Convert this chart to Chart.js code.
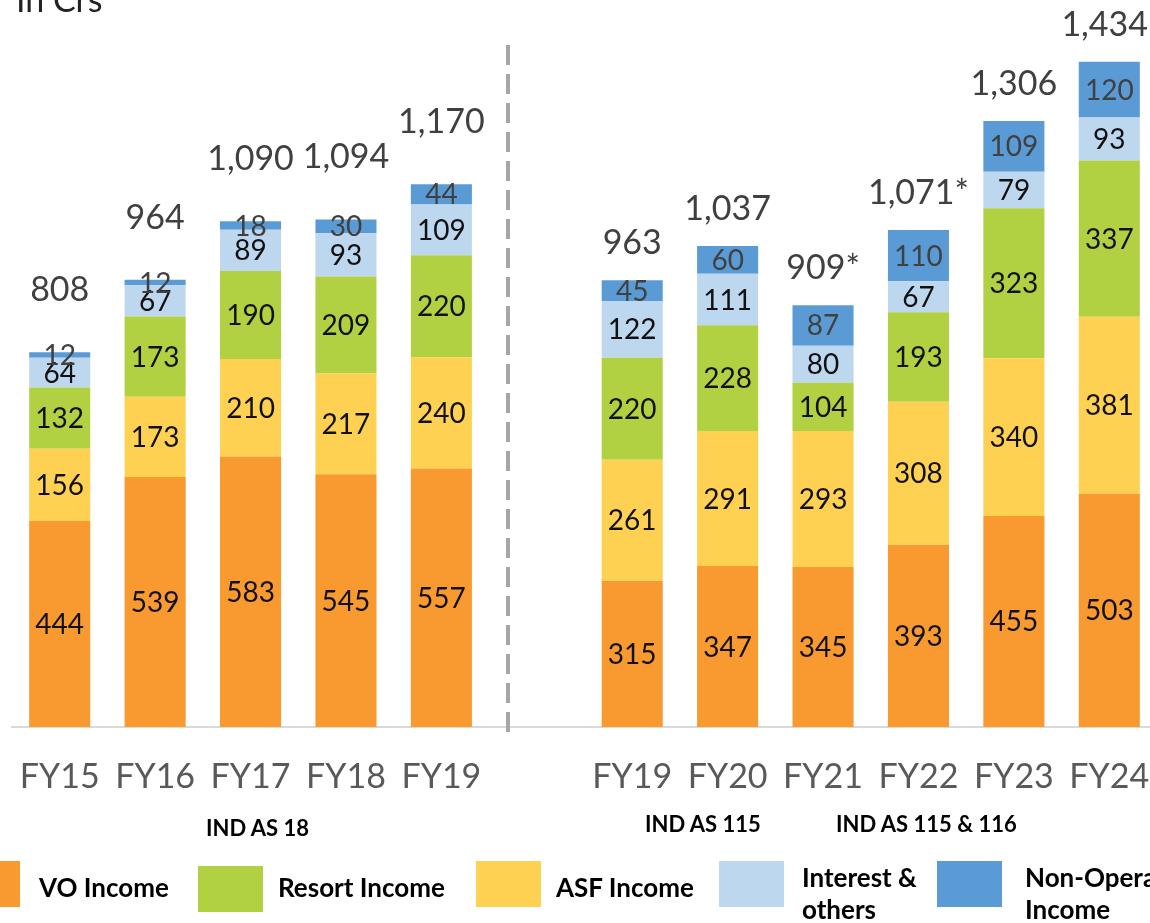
<!DOCTYPE html>
<html>
<head>
<meta charset="utf-8">
<script src="https://cdn.jsdelivr.net/npm/chart.js@4.4.1/dist/chart.umd.min.js"></script>
<style>
  html, body { margin: 0; padding: 0; background: #fff; width: 1150px; height: 923px; overflow: hidden; position: relative; font-family: Lato, "Open Sans", sans-serif; }
  #wrap { position: absolute; left: 0; top: 0; width: 1160px; height: 923px; }
  .txt { position: absolute; white-space: nowrap; }
  .unit { left: 16px; top: -22px; font-size: 34px; color: #222; }
  .std { font-weight: 700; font-size: 22px; color: #000; top: 814px; }
  .lbox { position: absolute; height: 46px; width: 65px; }
  .ltxt { position: absolute; font-weight: 700; font-size: 26px; color: #000; line-height: 32px; white-space: nowrap; }
</style>
</head>
<body>
<div id="wrap"><canvas id="c"></canvas></div>
<div class="txt unit">In Crs</div>
<div class="txt std" style="left:206px;">IND AS 18</div>
<div class="txt std" style="left:645px;top:810px;">IND AS 115</div>
<div class="txt std" style="left:836px;top:810px;">IND AS 115 &amp; 116</div>

<div class="lbox" style="left:-45px;top:861px;background:#F89A30;"></div>
<div class="ltxt" style="left:39px;top:871px;">VO Income</div>
<div class="lbox" style="left:198px;top:866px;background:#B1D142;"></div>
<div class="ltxt" style="left:278px;top:871px;">Resort Income</div>
<div class="lbox" style="left:476px;top:861px;background:#FFD152;"></div>
<div class="ltxt" style="left:556px;top:871px;">ASF Income</div>
<div class="lbox" style="left:719px;top:861px;background:#BDD7EE;"></div>
<div class="ltxt" style="left:802px;top:861px;">Interest &amp;<br>others</div>
<div class="lbox" style="left:937px;top:861px;background:#5B9BD5;"></div>
<div class="ltxt" style="left:1025px;top:861px;">Non-Operating<br>Income</div>

<script>
const categories = ['FY15','FY16','FY17','FY18','FY19','','FY19','FY20','FY21','FY22','FY23','FY24'];
const voIncome       = [444, 539, 583, 545, 557, null, 315, 347, 345, 393, 455, 503];
const asfIncome      = [156, 173, 210, 217, 240, null, 261, 291, 293, 308, 340, 381];
const resortIncome   = [132, 173, 190, 209, 220, null, 220, 228, 104, 193, 323, 337];
const interestOthers = [64, 67, 89, 93, 109, null, 122, 111, 80, 67, 79, 93];
const nonOperating   = [12, 12, 18, 30, 44, null, 45, 60, 87, 110, 109, 120];
const totalLabels    = ['808','964','1,090','1,094','1,170','','963','1,037','909*','1,071*','1,306','1,434'];

const labelPlugin = {
  id: 'labels',
  afterDatasetsDraw(chart) {
    const ctx = chart.ctx;
    ctx.save();
    ctx.textAlign = 'center';
    ctx.textBaseline = 'middle';
    chart.data.datasets.forEach((ds, di) => {
      const meta = chart.getDatasetMeta(di);
      meta.data.forEach((bar, i) => {
        const v = ds.data[i];
        if (v == null) return;
        const y = (bar.y + bar.base) / 2;
        ctx.font = '28px Lato';
        ctx.fillStyle = di === 4 ? '#404040' : '#111111';
        ctx.fillText(String(v), bar.x, y + 1);
      });
    });
    const top = chart.getDatasetMeta(chart.data.datasets.length - 1);
    top.data.forEach((bar, i) => {
      const t = totalLabels[i];
      if (!t) return;
      const off = i < 5 ? 62 : 37;
      ctx.font = '34px Lato';
      ctx.fillStyle = '#404040';
      const w = ctx.measureText(t).width;
      const x = Math.min(bar.x, 1148 - w / 2);
      ctx.fillText(t, x, bar.y - off);
    });
    // dashed separator
    const xs = chart.scales.x;
    const step = xs.getPixelForValue(5) - xs.getPixelForValue(4);
    const dx = Math.round(xs.getPixelForValue(4) + step * 0.7);
    ctx.strokeStyle = '#A6A6A6';
    ctx.lineWidth = 4;
    ctx.setLineDash([20, 9]);
    ctx.beginPath();
    ctx.moveTo(dx, 45);
    ctx.lineTo(dx, chart.chartArea.bottom + 8);
    ctx.stroke();
    ctx.restore();
  }
};

const mk = (label, data, color) => ({ label, data, backgroundColor: color, borderWidth: 0, barPercentage: 0.64, categoryPercentage: 1 });

new Chart(document.getElementById('c'), {
  type: 'bar',
  data: {
    labels: categories,
    datasets: [
      mk('VO Income', voIncome, '#F89A30'),
      mk('ASF Income', asfIncome, '#FFD152'),
      mk('Resort Income', resortIncome, '#B1D142'),
      mk('Interest & others', interestOthers, '#BDD7EE'),
      mk('Non-Operating Income', nonOperating, '#5B9BD5')
    ]
  },
  options: {
    responsive: true,
    maintainAspectRatio: false,
    animation: false,
    layout: { padding: { left: 12, right: 3, top: 0, bottom: 0 } },
    plugins: { legend: { display: false }, tooltip: { enabled: false } },
    scales: {
      x: {
        stacked: true,
        grid: { display: false },
        border: { display: true, color: '#D9D9D9', width: 2 },
        ticks: { color: '#595959', font: { family: 'Lato', size: 34 }, padding: 22, maxRotation: 0, autoSkip: false },
        afterFit(scale) { scale.height = 196; scale.paddingLeft = 0; scale.paddingRight = 0; }
      },
      y: {
        stacked: true,
        display: false,
        min: 0,
        max: 1567
      }
    }
  },
  plugins: [labelPlugin]
});
</script>
</body>
</html>
